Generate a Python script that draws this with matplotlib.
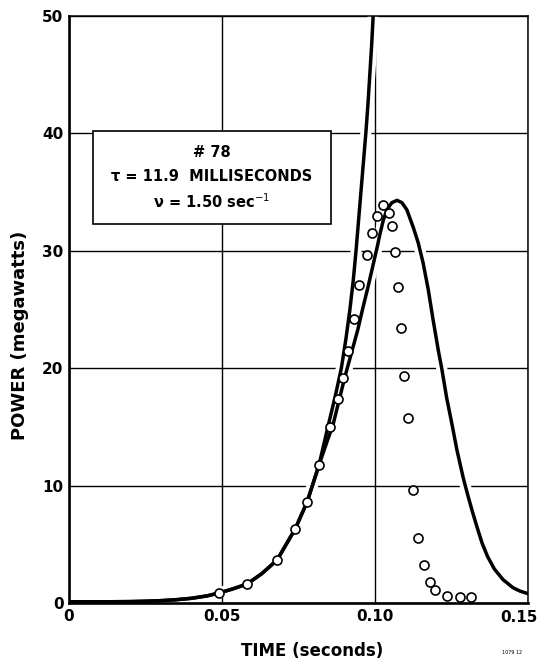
import matplotlib
matplotlib.use("Agg")
import matplotlib.pyplot as plt
from matplotlib.patches import Rectangle

# measured data points (circles)
time_pts = [0.0490, 0.0582, 0.0680, 0.0739, 0.0778, 0.0817, 0.0853, 0.0879, 0.0895,
            0.0912, 0.0931, 0.0948, 0.0974, 0.0990, 0.1007, 0.1026, 0.1046, 0.1056,
            0.1065, 0.1075, 0.1085, 0.1095, 0.1108, 0.1124, 0.1141, 0.1160, 0.1180,
            0.1196, 0.1235, 0.1278, 0.1314]
power_pts = [0.85, 1.62, 3.66, 6.30, 8.60, 11.75, 15.0, 17.4, 19.2,
             21.5, 24.2, 27.1, 29.6, 31.5, 33.0, 33.9, 33.2, 32.1,
             29.9, 26.9, 23.4, 19.3, 15.8, 9.6, 5.54, 3.24, 1.79,
             1.11, 0.60, 0.51, 0.51]

# exponential curve (runs off the top)
time_exp = [0.0, 0.01, 0.02, 0.025, 0.03, 0.035, 0.04, 0.045, 0.049, 0.0535,
            0.0582, 0.063, 0.068, 0.0739, 0.0778, 0.0817, 0.0846, 0.0870,
            0.0890, 0.0905, 0.0918, 0.0929, 0.0938, 0.0946, 0.0954, 0.0962,
            0.0970, 0.0977, 0.0983, 0.0989, 0.0994]
power_exp = [0.1, 0.1, 0.12, 0.15, 0.2, 0.28, 0.4, 0.6, 0.85, 1.2,
             1.62, 2.5, 3.66, 6.3, 8.6, 11.75, 15.0, 17.6,
             20.0, 22.5, 25.0, 27.5, 30.0, 32.5, 35.0, 37.5,
             40.0, 42.5, 45.0, 47.5, 50.0]

# calculated burst curve
time_calc = [0.0, 0.01, 0.02, 0.025, 0.03, 0.035, 0.04, 0.045, 0.049, 0.0535,
             0.0582, 0.063, 0.068, 0.0739, 0.0778, 0.0817, 0.0840, 0.0863,
             0.0882, 0.0902, 0.0923, 0.0944, 0.0960, 0.0977, 0.0992, 0.1007,
             0.1016, 0.1027, 0.1039, 0.1055, 0.1072, 0.1088, 0.1104, 0.1125,
             0.1141, 0.1157, 0.1174, 0.1190, 0.1207, 0.1218, 0.1234, 0.1251,
             0.1268, 0.1288, 0.1301, 0.1317, 0.1333, 0.1350, 0.1368, 0.1390,
             0.1418, 0.1451, 0.1475, 0.1500]
power_calc = [0.1, 0.1, 0.12, 0.15, 0.2, 0.28, 0.4, 0.6, 0.85, 1.2,
              1.62, 2.5, 3.66, 6.3, 8.6, 11.75, 13.5, 15.2,
              17.2, 19.3, 21.3, 23.3, 25.1, 26.9, 28.6, 30.3,
              31.4, 32.6, 33.5, 34.1, 34.3, 34.1, 33.5, 32.0,
              30.7, 29.0, 26.7, 24.1, 21.5, 20.0, 17.5, 15.3,
              13.0, 10.7, 9.4, 7.9, 6.5, 5.1, 3.95, 2.9,
              2.0, 1.3, 1.0, 0.8]

x_ticks = [0, 0.05, 0.10, 0.15]
x_tick_labels = ["0", "0.05", "0.10", "0.15"]
y_ticks = [0, 10, 20, 30, 40, 50]
y_tick_labels = ["0", "10", "20", "30", "40", "50"]

fig = plt.figure(figsize=(5.41, 6.62), dpi=100)
ax = fig.add_axes([69 / 541, 59 / 662, 459 / 541, 587 / 662])
ax.set_xlim(0, 0.15)
ax.set_ylim(0, 50)

# last x label would hang over the edge, so it is placed by hand below
ax.set_xticks(x_ticks)
ax.set_xticklabels(x_tick_labels[:-1] + [""])
ax.set_yticks(y_ticks)
ax.set_yticklabels(y_tick_labels)
ax.tick_params(length=0, labelsize=11, pad=4)
for lab in ax.get_xticklabels() + ax.get_yticklabels():
    lab.set_fontweight("bold")
fig.text(519 / 541, 1 - 617 / 662, x_tick_labels[-1], ha="center", va="center",
         fontsize=11, fontweight="bold")

ax.set_axisbelow(True)
ax.grid(True, color="black", linewidth=1.0)

for side in ["left", "bottom"]:
    ax.spines[side].set_linewidth(1.9)
for side in ["top", "right"]:
    ax.spines[side].set_linewidth(1.1)

# white halos break the grid lines where the curves cross, as in the drawing
ax.plot(time_exp, power_exp, color="white", lw=8, zorder=1.5, solid_capstyle="butt")
ax.plot(time_calc, power_calc, color="white", lw=8, zorder=1.5)
ax.plot(time_exp, power_exp, color="black", lw=2.5, zorder=2)
ax.plot(time_calc, power_calc, color="black", lw=2.5, zorder=2)
ax.plot(time_pts, power_pts, "o", ms=6.5, mfc="white", mec="black", mew=1.2,
        zorder=3, clip_on=False)

box = Rectangle((0.0078, 32.3), 0.0778, 7.9, facecolor="white", edgecolor="black",
                lw=1.2, zorder=4)
ax.add_patch(box)
ax.text(0.0467, 38.4, "# 78", ha="center", va="center", fontsize=10.5,
        fontweight="bold", zorder=5)
ax.text(0.0467, 36.35, "τ = 11.9  MILLISECONDS", ha="center", va="center",
        fontsize=10.5, fontweight="bold", zorder=5)
ax.text(0.0467, 34.2, r"ν = 1.50 sec$^{-1}$", ha="center", va="center",
        fontsize=10.5, fontweight="bold", zorder=5)

fig.text(312 / 541, 1 - 651 / 662, "TIME (seconds)", ha="center", va="center",
         fontsize=12, fontweight="bold")
fig.text(20 / 541, 1 - 335 / 662, "POWER (megawatts)", ha="center", va="center",
         rotation=90, fontsize=13, fontweight="bold")
fig.text(512 / 541, 1 - 652 / 662, "1079 12", ha="center", va="center", fontsize=3.5)

fig.savefig("out.png", dpi=100)
